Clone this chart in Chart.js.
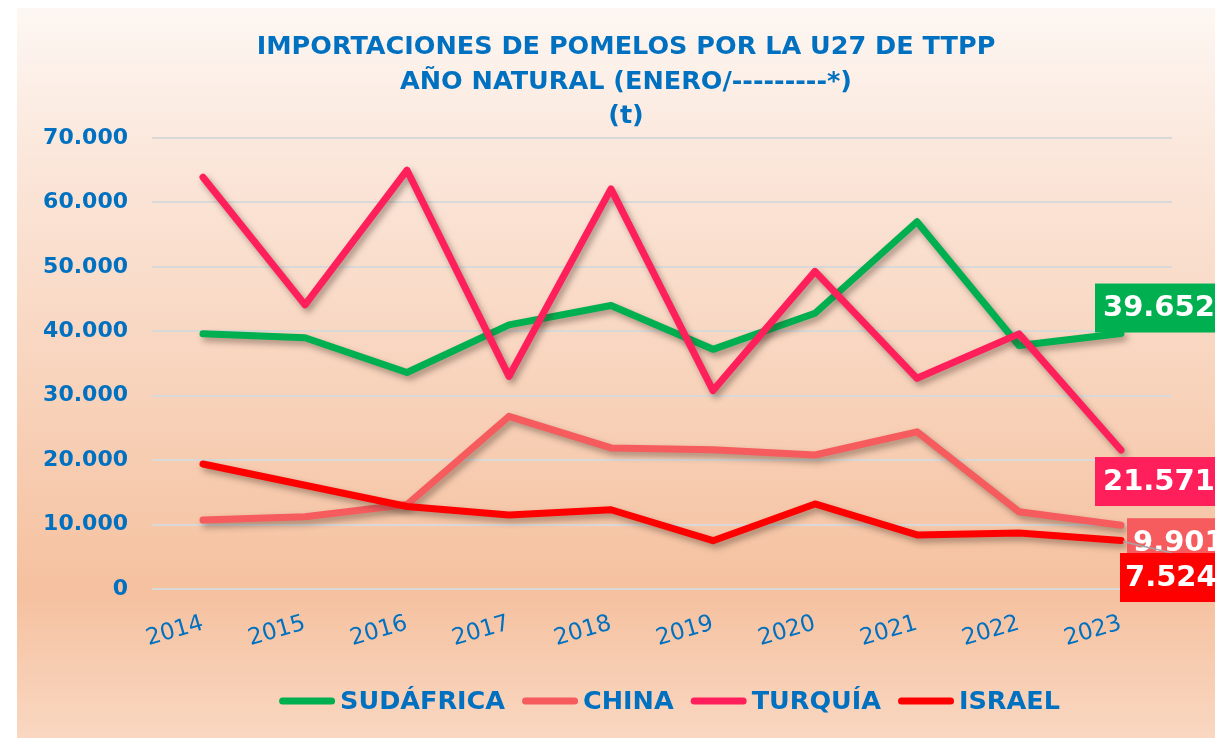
<!DOCTYPE html>
<html lang="es">
<head>
<meta charset="utf-8">
<title>Importaciones de pomelos UE27</title>
<script src="https://cdn.jsdelivr.net/npm/chart.js@4.4.1/dist/chart.umd.min.js"></script>
<style>
    html, body { margin: 0; padding: 0; background: #fff; }
    #wrap { width: 1215px; height: 738px; }
</style>
</head>
<body>
<div id="wrap"><canvas id="pomelos-chart"></canvas></div>
<script>
// Datos (t)
const years = ['2014', '2015', '2016', '2017', '2018', '2019', '2020', '2021', '2022', '2023'];
const sudafrica = [39600, 39000, 33600, 41000, 44000, 37200, 42800, 57000, 37800, 39652];
const china = [10700, 11200, 13100, 26800, 21900, 21600, 20800, 24400, 12000, 9901];
const turquia = [63900, 44100, 65000, 33000, 62100, 30800, 49300, 32700, 39600, 21571];
const israel = [19400, 16100, 12800, 11500, 12300, 7500, 13200, 8400, 8700, 7524];
const seriesNames = ['SUDÁFRICA', 'CHINA', 'TURQUÍA', 'ISRAEL'];
const titleLines = ['IMPORTACIONES DE POMELOS POR LA U27 DE TTPP', 'AÑO NATURAL (ENERO/---------*)', '(t)'];

const AZUL = '#0070c0';
const FUENTE = '"DejaVu Sans", sans-serif';

// separador de miles con punto
function miles(v) {
    return String(Math.round(v)).replace(/\B(?=(\d{3})+(?!\d))/g, '.');
}

// fondo degradado
const fondo = {
    id: 'fondo',
    beforeDraw(chart) {
        const { ctx, width, height } = chart;
        ctx.save();
        ctx.fillStyle = '#fff';
        ctx.fillRect(0, 0, width, height);
        const g = ctx.createLinearGradient(0, 8, 0, height);
        g.addColorStop(0, '#fdf7f3');
        g.addColorStop(0.2, '#fbe7db');
        g.addColorStop(0.8, '#f5c19f');
        g.addColorStop(1, '#f9d7c1');
        ctx.fillStyle = g;
        ctx.fillRect(17, 8, width - 17, height - 8);
        ctx.restore();
    }
};

// sombra de las líneas
const sombra = {
    id: 'sombra',
    beforeDatasetDraw(chart) {
        const c = chart.ctx;
        c.save();
        c.shadowColor = 'rgba(70, 50, 40, 0.45)';
        c.shadowBlur = 6;
        c.shadowOffsetX = 3;
        c.shadowOffsetY = 4;
    },
    afterDatasetDraw(chart) {
        chart.ctx.restore();
    }
};

// etiquetas con el último valor de cada serie
const ultimoValor = {
    id: 'ultimoValor',
    afterDatasetsDraw(chart, args, opts) {
        const ctx = chart.ctx;
        ctx.save();
        ctx.font = 'bold 29px ' + FUENTE;
        ctx.textBaseline = 'middle';
        opts.boxes.forEach(b => {
            const ds = chart.data.datasets[b.dataset];
            const meta = chart.getDatasetMeta(b.dataset);
            const pt = meta.data[meta.data.length - 1];
            const text = miles(ds.data[ds.data.length - 1]);
            if (b.leader) {
                ctx.strokeStyle = '#a5a5a5';
                ctx.lineWidth = 1.5;
                ctx.beginPath();
                ctx.moveTo(pt.x + 2, pt.y + 1);
                ctx.lineTo(pt.x + b.dx + 52, pt.y + b.dy);
                ctx.stroke();
            }
            const x = pt.x + b.dx;
            const y = pt.y + b.dy;
            const w = ctx.measureText(text).width + 24;
            ctx.fillStyle = ds.borderColor;
            ctx.fillRect(x, y, w, 49);
            ctx.fillStyle = '#fff';
            ctx.fillText(text, x + b.pad, y + 25);
        });
        ctx.restore();
    }
};

// leyenda inferior
const leyenda = {
    id: 'leyenda',
    afterDraw(chart, args, opts) {
        const ctx = chart.ctx;
        ctx.save();
        ctx.font = 'bold 25.5px ' + FUENTE;
        ctx.textBaseline = 'middle';
        const items = chart.data.datasets.map(ds => ({ ds, w: ctx.measureText(ds.label).width }));
        const total = items.reduce((s, it) => s + opts.lineLength + opts.gap + it.w, 0) + opts.spacing * (items.length - 1);
        let x = opts.centerX - total / 2;
        items.forEach(it => {
            ctx.strokeStyle = it.ds.borderColor;
            ctx.lineWidth = 7;
            ctx.lineCap = 'round';
            ctx.beginPath();
            ctx.moveTo(x + 3.5, opts.y);
            ctx.lineTo(x + opts.lineLength - 3.5, opts.y);
            ctx.stroke();
            x += opts.lineLength + opts.gap;
            ctx.fillStyle = AZUL;
            ctx.fillText(it.ds.label, x, opts.y + 1);
            x += it.w + opts.spacing;
        });
        ctx.restore();
    }
};

function serie(label, data, color, order) {
    return {
        label: label,
        data: data,
        borderColor: color,
        backgroundColor: color,
        borderWidth: 7,
        borderCapStyle: 'round',
        borderJoinStyle: 'round',
        pointRadius: 0,
        pointHoverRadius: 0,
        tension: 0,
        order: order,
        yAxisID: 'y'
    };
}

const ctx = document.getElementById('pomelos-chart').getContext('2d');
const chart = new Chart(ctx, {
    type: 'line',
    data: {
        labels: years,
        datasets: [
            serie(seriesNames[0], sudafrica, '#00b050', 4),
            serie(seriesNames[1], china, '#f65b5e', 3),
            serie(seriesNames[2], turquia, '#ff1f5b', 2),
            serie(seriesNames[3], israel, '#ff0000', 1)
        ]
    },
    options: {
        responsive: true,
        maintainAspectRatio: false,
        animation: false,
        layout: {
            padding: { left: 37, right: 0, top: 8, bottom: 0 }
        },
        scales: {
            x: {
                offset: true,
                grid: { display: false },
                border: { display: false },
                ticks: {
                    color: AZUL,
                    font: { family: FUENTE, size: 23 },
                    minRotation: 16,
                    maxRotation: 16,
                    autoSkip: false,
                    padding: 13
                },
                afterFit: function (scale) {
                    scale.height = 149;
                }
            },
            y: {
                min: 0,
                max: 70000,
                ticks: {
                    stepSize: 10000,
                    color: AZUL,
                    font: { family: FUENTE, size: 22, weight: 'bold' },
                    padding: 24,
                    callback: function (value) {
                        return miles(value);
                    }
                },
                grid: {
                    color: '#d9d9d9',
                    lineWidth: 2,
                    drawTicks: false
                },
                border: { display: false },
                afterFit: function (scale) {
                    scale.width = 115;
                }
            },
            // margen derecho para las etiquetas de valor
            margen: {
                position: 'right',
                min: 0,
                max: 70000,
                grid: { display: false },
                border: { display: false },
                ticks: { display: false },
                afterFit: function (scale) {
                    scale.width = 43;
                }
            }
        },
        plugins: {
            legend: { display: false },
            tooltip: { enabled: false },
            title: {
                display: true,
                text: titleLines,
                color: AZUL,
                font: { family: FUENTE, size: 25.5, weight: 'bold', lineHeight: 1.37 },
                padding: { top: 21.5, bottom: 3.7 }
            },
            ultimoValor: {
                boxes: [
                    { dataset: 0, dx: -26, dy: -50, pad: 8 },
                    { dataset: 2, dx: -26, dy: 7, pad: 8 },
                    { dataset: 1, dx: 6, dy: -7, pad: 6 },
                    { dataset: 3, dx: -1, dy: 12.5, pad: 5, leader: true }
                ]
            },
            leyenda: {
                y: 701,
                centerX: 669.5,
                lineLength: 56,
                gap: 5,
                spacing: 17
            }
        }
    },
    plugins: [fondo, sombra, ultimoValor, leyenda]
});
</script>
</body>
</html>
